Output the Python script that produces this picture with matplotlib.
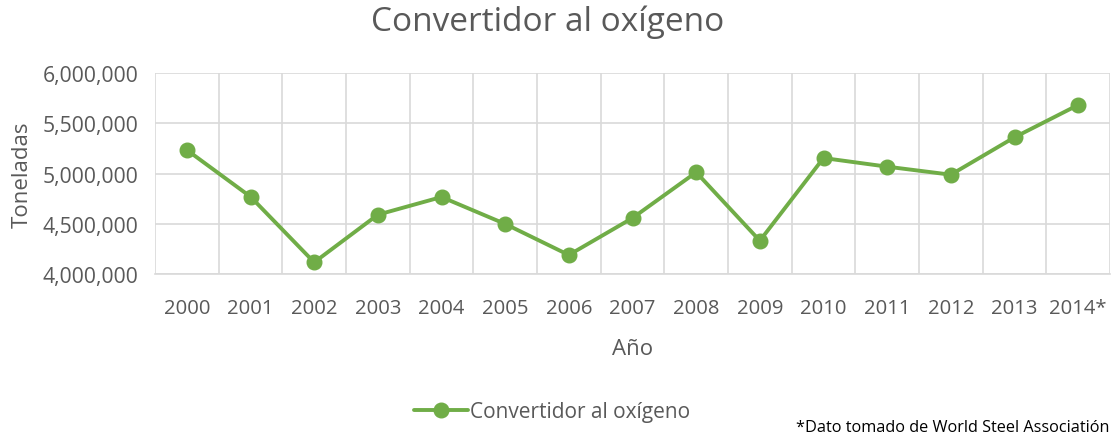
import matplotlib
matplotlib.use("Agg")
import matplotlib.pyplot as plt
from matplotlib.ticker import FuncFormatter, FixedLocator

years = ["2000", "2001", "2002", "2003", "2004", "2005", "2006", "2007",
         "2008", "2009", "2010", "2011", "2012", "2013", "2014*"]
toneladas = [5234000, 4769000, 4116000, 4590000, 4766000, 4498000, 4189000,
             4557000, 5012000, 4331000, 5154000, 5068000, 4988000, 5360000, 5682000]
series_name = "Convertidor al oxígeno"
title = "Convertidor al oxígeno"
note = "*Dato tomado de World Steel Associatión"

plt.rcParams['font.family'] = ['Open Sans', 'DejaVu Sans']
txt = "#595959"
green = "#70AD47"
grid = "#D9D9D9"

fig = plt.figure(figsize=(11.11, 4.39), dpi=100)
ax = fig.add_axes([155/1111, 1-275/439, 955/1111, 201/439])

x = list(range(len(years)))
ax.plot(x, toneladas, color=green, lw=2.8, marker='o', ms=10.5,
        markeredgecolor=green, markerfacecolor=green, label=series_name,
        solid_capstyle='round', zorder=3)

ax.set_xlim(-0.5, len(years) - 0.5)
ax.set_ylim(4000000, 6000000)
ax.set_yticks([4000000, 4500000, 5000000, 5500000, 6000000])
ax.yaxis.set_major_formatter(FuncFormatter(lambda v, p: f"{int(v):,}"))
ax.set_xticks(x)
ax.set_xticklabels(years)
ax.xaxis.set_minor_locator(FixedLocator([i - 0.5 for i in range(len(years) + 1)]))

ax.grid(True, which='major', axis='y', color=grid, lw=1.2)
ax.grid(True, which='minor', axis='x', color=grid, lw=1.2)
ax.set_axisbelow(True)
for s in ['top', 'right', 'left']:
    ax.spines[s].set_visible(False)
ax.spines['bottom'].set_color(grid)
ax.spines['bottom'].set_linewidth(1.2)
ax.tick_params(axis='y', which='both', length=0, colors=txt, labelsize=15.2, pad=12)
ax.tick_params(axis='x', which='both', length=0, colors=txt, labelsize=14.6, pad=17)

ax.set_ylabel("Toneladas", color=txt, fontsize=16, labelpad=7)
ax.set_xlabel("Año", color=txt, fontsize=16, labelpad=15)
fig.text(548/1111, 1-22/439, title, ha='center', va='center', color=txt, fontsize=24)

leg = fig.legend(loc='center', bbox_to_anchor=(552/1111, 1-413/439), frameon=False,
                 fontsize=15, handlelength=2.6, handletextpad=0.1)
for t in leg.get_texts():
    t.set_color(txt)
fig.text(1109/1111, 1-428/439, note, ha='right', va='center', color='black', fontsize=11.7)

fig.savefig("out.png", dpi=100)
